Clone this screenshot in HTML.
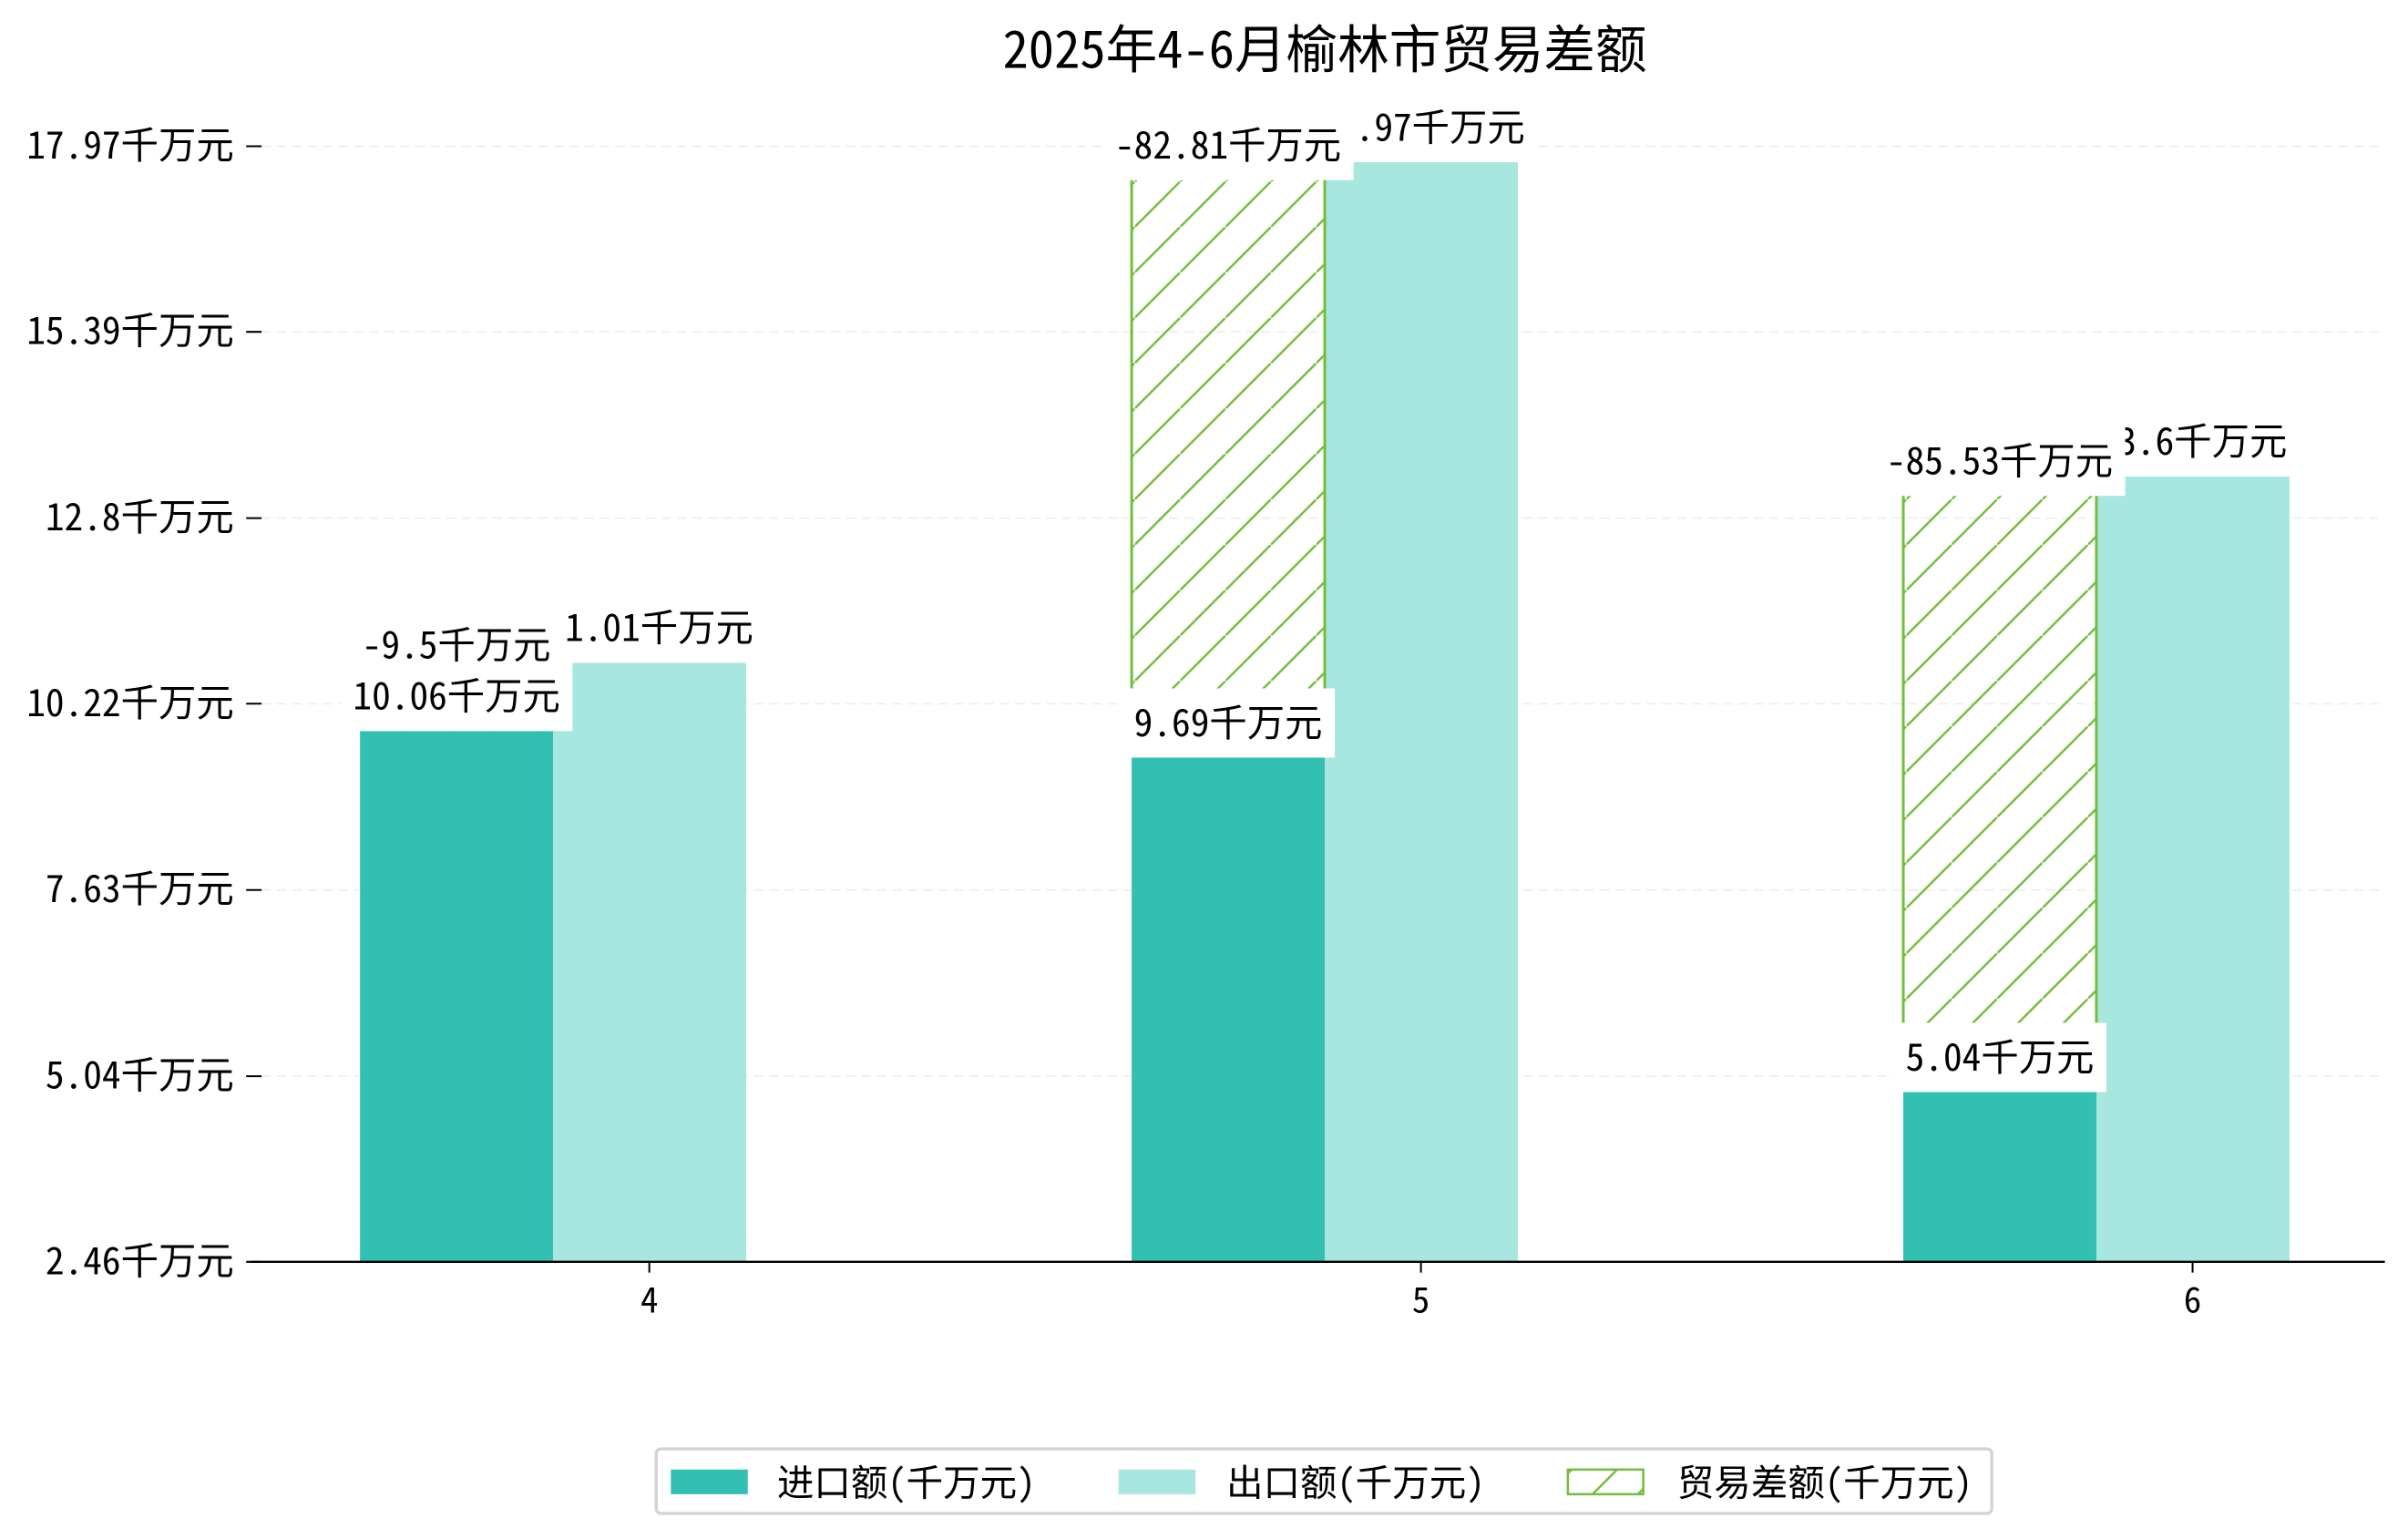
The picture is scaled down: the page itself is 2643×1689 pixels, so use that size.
<!DOCTYPE html>
<html><head><meta charset="utf-8"><style>
html,body{margin:0;padding:0;background:#fff;}
svg{display:block;}
text{font-family:"WenQuanYi Zen Hei Mono","Noto Sans Mono CJK SC","WenQuanYi Zen Hei","Noto Sans CJK SC",sans-serif;fill:#000;}
</style></head><body>
<svg id="chart" width="2643" height="1689" viewBox="0 0 2643 1689" xmlns="http://www.w3.org/2000/svg">
<defs>
<pattern id="hatch" patternUnits="userSpaceOnUse" width="29.5" height="29.5">
<line x1="-2" y1="31.5" x2="31.5" y2="-2" stroke="#76bd3f" stroke-width="1.5"/>
</pattern>
</defs>
<g id="root" transform="scale(1.6888)">
<text x="861" y="44" font-size="33.5" text-anchor="middle">2025年4-6月榆林市贸易差额</text>
<g id="grid"></g>
<g id="bars"></g>
<g id="labels"></g>
<line x1="163" y1="820" x2="1550" y2="820" stroke="#000" stroke-width="1.4"/>
<g id="axes"></g>
<g>
<rect x="426.5" y="941.5" width="868" height="42" rx="3" fill="#fff" stroke="#d3d3d3" stroke-width="2"/>
<rect x="436" y="955" width="50" height="16" fill="#31c0b2"/>
<text x="505" y="972" font-size="24">进口额(千万元)</text>
<rect x="727" y="955" width="50" height="16" fill="#a8e6e0"/>
<text x="797" y="972" font-size="24">出口额(千万元)</text>
<rect x="1019" y="955" width="49" height="16" fill="url(#hatch)" stroke="#76bd3f" stroke-width="1.5"/>
<text x="1090" y="972" font-size="24">贸易差额(千万元)</text>
</g>
</g>
</svg>
<script>
const months = ["4","5","6"];
const importVals = [10.06, 9.69, 5.04];
const exportVals = [11.01, 17.97, 13.6];
const balanceVals = [-9.5, -82.81, -85.53];
const balanceBarHeights = [0.71, 8.03, 8.29];
const yTicks = [2.46, 5.04, 7.63, 10.22, 12.8, 15.39, 17.97];

const NS = "http://www.w3.org/2000/svg";
const baseY = 820, pxPerUnit = 46.74, yMin = 2.68;
function yScale(v){ return baseY - (v - yMin) * pxPerUnit; }
function tickY(t){ return baseY - (t - yTicks[0]) * pxPerUnit; }
function xScale(i){ return 422 + i * 501.5; }
const bw = 125.5;
function mk(tag, attrs, parent){ const e=document.createElementNS(NS,tag); for(const k in attrs) e.setAttribute(k,attrs[k]); parent.appendChild(e); return e; }
const grid=document.getElementById('grid'), bars=document.getElementById('bars'), labels=document.getElementById('labels'), axes=document.getElementById('axes');
function fmt(v){ return v + "千万元"; }

yTicks.forEach((t,i)=>{
  const y=tickY(t);
  if(i>0){ const g=mk('line',{x1:170,x2:1550,y1:y,y2:y,stroke:'#ececec','stroke-width':1,'stroke-dasharray':'6,4'},grid);
    }
  const tk=mk('line',{x1:160,x2:170,y1:y,y2:y,stroke:'#000','stroke-width':1.2},axes);
   
  const tx=mk('text',{x:152,y:y+8,'font-size':24.5,'text-anchor':'end'},axes);
  tx.textContent=fmt(t);
   
});
months.forEach((m,i)=>{
  const cx=xScale(i);
  const tk=mk('line',{x1:cx,x2:cx,y1:820,y2:827,stroke:'#000','stroke-width':1.2},axes);
   
  const tx=mk('text',{x:cx,y:853,'font-size':23,'text-anchor':'middle'},axes);
  tx.textContent=m;
   
});

const labelJobs=[[],[],[]];
months.forEach((m,i)=>{
  const cx=xScale(i);
  const ix=cx-188, ex=cx-62.5;
  const iy=yScale(importVals[i]);
  const ib=mk('rect',{x:ix,y:iy,width:bw,height:baseY-iy,fill:'#31c0b2'},bars);
   
  const ey=yScale(exportVals[i]);
  const eb=mk('rect',{x:ex,y:ey,width:bw,height:baseY-ey,fill:'#a8e6e0'},bars);
   
  const hy=yScale(importVals[i]+balanceBarHeights[i]);
  const hg=mk('g',{},bars);
   
  mk('rect',{x:ix,y:hy,width:bw,height:iy-hy,fill:'url(#hatch)'},hg);
  mk('line',{x1:ix,x2:ix,y1:hy,y2:iy,stroke:'#76bd3f','stroke-width':1.8},hg);
  mk('line',{x1:ix+bw,x2:ix+bw,y1:hy,y2:iy,stroke:'#76bd3f','stroke-width':1.8},hg);
  labelJobs[0].push([ex+bw/2,ey,fmt(exportVals[i]),'label-export-'+m]);
  labelJobs[1].push([ix+bw/2,hy,fmt(balanceVals[i]),'label-balance-'+m]);
  labelJobs[2].push([ix+bw/2,iy,fmt(importVals[i]),'label-import-'+m]);
});
labelJobs.forEach(group=>group.forEach(([cx,top,txt,name])=>{
  const g=mk('g',{},labels);
   
  const r=mk('rect',{fill:'#fff'},g);
  const t=mk('text',{x:cx,y:top-14,'font-size':24.5,'text-anchor':'middle'},g);
  t.textContent=txt;
  const w=t.getComputedTextLength()+16;
  r.setAttribute('x',cx-w/2); r.setAttribute('y',top-45); r.setAttribute('width',w); r.setAttribute('height',45);
}));
</script>
</body></html>
